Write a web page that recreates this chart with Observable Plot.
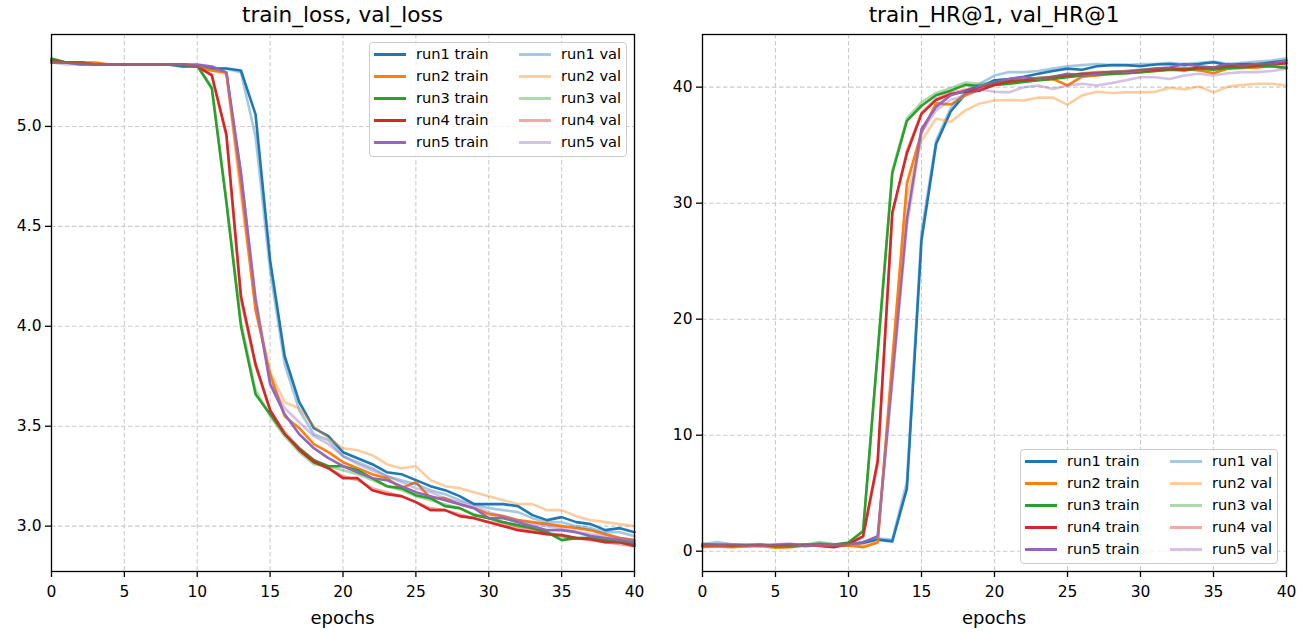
<!DOCTYPE html>
<html>
<head>
<meta charset="utf-8">
<script src="https://cdn.jsdelivr.net/npm/d3@7"></script>
<script src="https://cdn.jsdelivr.net/npm/@observablehq/plot@0.6"></script>
<style>
  body { margin: 0; background: #fff; font-family: "DejaVu Sans", sans-serif; }
  #root { position: relative; width: 1309px; height: 633px; overflow: hidden; }
  .panel { position: absolute; top: 30px; }
  .title { position: absolute; top: 2px; font-size: 21.6px; line-height: 26px; text-align: center; color: #000; white-space: nowrap; }
  .xlabel { position: absolute; top: 606px; font-size: 18px; line-height: 24px; text-align: center; color: #000; }
  .legend { position: absolute; width: 258px; height: 115px; border: 1px solid #cccccc; border-radius: 4px; background: rgba(255,255,255,0.8); box-sizing: border-box; }
  .legend .sw { position: absolute; height: 3px; width: 32px; }
  .legend .lb { position: absolute; font-size: 14.6px; line-height: 18px; color: #000; white-space: nowrap; }
</style>
</head>
<body>
<div id="root"></div>
<script>
// ---------- data ----------
const epochs = [0,1,2,3,4,5,6,7,8,9,10,11,12,13,14,15,16,17,18,19,20,21,22,23,24,25,26,27,28,29,30,31,32,33,34,35,36,37,38,39,40];
const runs = ["run1", "run2", "run3", "run4", "run5"];
const xTicks = [0, 5, 10, 15, 20, 25, 30, 35, 40];
const lossTicks = [3.0, 3.5, 4.0, 4.5, 5.0];
const hrTicks = [0, 10, 20, 30, 40];
const panelTitles = ["train_loss, val_loss", "train_HR@1, val_HR@1"];
const xLabel = "epochs";

// train_loss
const lossTrainRun1 = [5.33,5.32,5.32,5.31,5.31,5.31,5.31,5.31,5.31,5.30,5.30,5.29,5.29,5.28,5.06,4.33,3.85,3.62,3.49,3.45,3.37,3.34,3.31,3.27,3.26,3.23,3.20,3.18,3.15,3.11,3.11,3.11,3.10,3.055,3.03,3.045,3.02,3.01,2.98,2.99,2.97];
const lossTrainRun2 = [5.33,5.32,5.32,5.32,5.31,5.31,5.31,5.31,5.31,5.31,5.30,5.28,5.27,4.70,4.08,3.76,3.55,3.49,3.41,3.37,3.32,3.29,3.26,3.24,3.19,3.22,3.14,3.14,3.11,3.09,3.06,3.05,3.03,3.02,3.01,3.00,2.99,2.98,2.96,2.94,2.93];
const lossTrainRun3 = [5.34,5.32,5.32,5.31,5.31,5.31,5.31,5.31,5.31,5.31,5.305,5.19,4.62,4.00,3.66,3.56,3.46,3.39,3.33,3.30,3.30,3.28,3.24,3.20,3.19,3.155,3.14,3.10,3.09,3.055,3.04,3.02,3.005,2.99,2.97,2.93,2.94,2.94,2.93,2.92,2.91];
const lossTrainRun4 = [5.33,5.32,5.32,5.31,5.31,5.31,5.31,5.31,5.31,5.31,5.30,5.255,4.96,4.15,3.81,3.58,3.46,3.38,3.32,3.29,3.24,3.24,3.18,3.16,3.15,3.12,3.08,3.08,3.05,3.04,3.02,3.00,2.98,2.97,2.96,2.955,2.94,2.935,2.92,2.92,2.90];
const lossTrainRun5 = [5.32,5.32,5.31,5.31,5.31,5.31,5.31,5.31,5.31,5.31,5.31,5.30,5.27,4.77,4.13,3.71,3.56,3.46,3.39,3.34,3.30,3.27,3.24,3.23,3.20,3.17,3.15,3.13,3.11,3.09,3.04,3.04,3.02,3.00,2.98,2.98,2.97,2.95,2.94,2.93,2.92];
// val_loss
const lossValRun1 = [5.32,5.32,5.31,5.31,5.31,5.31,5.31,5.31,5.31,5.30,5.30,5.29,5.29,5.27,4.95,4.28,3.81,3.58,3.46,3.43,3.35,3.32,3.29,3.25,3.23,3.21,3.18,3.16,3.13,3.11,3.09,3.08,3.07,3.04,3.02,3.02,3.00,2.99,2.97,2.97,2.95];
const lossValRun2 = [5.32,5.32,5.32,5.31,5.31,5.31,5.31,5.31,5.31,5.31,5.30,5.28,5.26,4.65,4.10,3.77,3.62,3.59,3.50,3.44,3.39,3.38,3.355,3.31,3.29,3.30,3.23,3.20,3.19,3.17,3.15,3.13,3.11,3.11,3.08,3.08,3.05,3.03,3.02,3.01,3.00];
const lossValRun3 = [5.33,5.32,5.32,5.31,5.31,5.31,5.31,5.31,5.31,5.31,5.30,5.20,4.63,4.02,3.68,3.55,3.45,3.37,3.31,3.30,3.28,3.26,3.23,3.20,3.18,3.15,3.13,3.11,3.09,3.06,3.04,3.02,3.00,2.99,2.97,2.95,2.94,2.94,2.93,2.92,2.91];
const lossValRun4 = [5.32,5.32,5.32,5.31,5.31,5.31,5.31,5.31,5.31,5.31,5.30,5.26,4.95,4.13,3.80,3.58,3.47,3.39,3.33,3.29,3.25,3.23,3.19,3.17,3.15,3.12,3.09,3.08,3.06,3.04,3.02,3.01,2.99,2.98,2.96,2.95,2.94,2.93,2.92,2.91,2.90];
const lossValRun5 = [5.32,5.31,5.31,5.31,5.31,5.31,5.31,5.31,5.31,5.31,5.30,5.30,5.27,4.75,4.15,3.72,3.59,3.52,3.45,3.41,3.35,3.31,3.28,3.25,3.22,3.19,3.17,3.14,3.12,3.10,3.07,3.05,3.03,3.01,3.00,2.99,2.97,2.96,2.95,2.94,2.93];

// train_HR@1
const hrTrainRun1 = [0.5,0.55,0.5,0.45,0.5,0.45,0.5,0.45,0.5,0.5,0.55,0.7,1.0,0.85,5.4,26.8,35.1,37.9,39.4,40.0,40.6,40.7,40.9,41.15,41.4,41.6,41.5,41.8,41.9,41.9,41.8,41.95,42.0,41.9,42.0,42.15,41.9,42.0,42.0,42.15,42.3];
const hrTrainRun2 = [0.35,0.4,0.35,0.4,0.45,0.3,0.35,0.5,0.55,0.45,0.5,0.35,0.75,16.5,31.7,36.1,38.6,38.5,39.3,39.8,40.2,40.35,40.5,40.6,40.7,40.15,40.9,41.0,41.15,41.2,41.3,41.4,41.5,41.6,41.45,41.2,41.6,41.65,41.7,41.8,41.65];
const hrTrainRun3 = [0.6,0.5,0.45,0.5,0.55,0.4,0.4,0.5,0.6,0.55,0.75,1.75,17.2,32.6,37.1,38.4,39.3,39.7,40.2,40.1,40.2,40.3,40.45,40.6,40.7,40.85,41.0,41.1,41.15,41.2,41.3,41.4,41.5,41.45,41.6,41.5,41.65,41.7,41.8,41.8,41.65];
const hrTrainRun4 = [0.45,0.5,0.45,0.5,0.5,0.45,0.5,0.55,0.45,0.35,0.6,1.3,7.8,29.2,34.3,37.7,38.9,39.4,39.6,39.7,40.2,40.5,40.6,40.7,40.85,41.0,41.15,41.2,41.3,41.3,41.4,41.5,41.6,41.5,41.7,41.65,41.8,41.8,41.85,42.0,42.05];
const hrTrainRun5 = [0.55,0.5,0.55,0.5,0.45,0.55,0.6,0.45,0.5,0.5,0.55,0.75,1.3,15.0,28.6,36.4,38.3,39.3,39.7,40.1,40.4,40.7,40.85,40.7,40.9,41.15,41.0,41.15,41.3,41.3,41.45,41.6,41.7,42.0,41.8,41.7,42.0,41.85,42.0,42.0,42.3];
// val_HR@1
const hrValRun1 = [0.6,0.8,0.6,0.5,0.6,0.5,0.6,0.5,0.7,0.6,0.6,0.8,1.1,1.0,6.0,27.5,35.4,38.2,39.6,40.3,41.0,41.3,41.3,41.4,41.6,41.8,41.9,42.0,41.9,41.9,42.0,42.0,42.1,42.0,42.1,42.2,42.0,42.1,42.2,42.3,42.5];
const hrValRun2 = [0.4,0.5,0.4,0.45,0.5,0.4,0.45,0.55,0.5,0.5,0.55,0.5,0.8,16.0,30.5,35.4,37.3,37.0,38.0,38.6,38.85,38.9,38.85,39.1,39.1,38.5,39.3,39.6,39.5,39.55,39.55,39.6,39.95,39.8,40.05,39.55,40.05,40.2,40.3,40.3,40.15];
const hrValRun3 = [0.65,0.55,0.5,0.55,0.6,0.45,0.45,0.55,0.8,0.6,0.7,1.7,17.0,32.8,37.3,38.7,39.5,39.9,40.4,40.3,40.4,40.5,40.6,40.8,40.9,41.0,41.2,41.3,41.3,41.4,41.5,41.6,41.6,41.6,41.7,41.6,41.8,41.8,41.9,41.9,41.8];
const hrValRun4 = [0.5,0.55,0.5,0.55,0.5,0.5,0.55,0.6,0.5,0.45,0.65,1.2,7.5,29.0,34.5,37.8,39.0,39.5,39.8,39.9,40.3,40.5,40.6,40.8,40.9,41.0,41.1,41.3,41.3,41.4,41.5,41.5,41.6,41.6,41.7,41.7,41.8,41.9,41.9,42.0,42.1];
const hrValRun5 = [0.6,0.55,0.6,0.55,0.5,0.6,0.65,0.5,0.55,0.55,0.6,0.8,1.2,14.5,28.0,36.1,38.0,38.9,39.3,39.8,39.6,39.55,40.0,40.15,39.85,40.15,40.3,40.15,40.35,40.6,40.85,40.85,40.7,41.0,41.15,41.0,41.2,41.3,41.3,41.4,41.6];

// ---------- styling ----------
const runColors = ["#1f77b4", "#ff7f0e", "#2ca02c", "#d62728", "#9467bd"];
const valOpacity = 0.4;

const lossTrain = [lossTrainRun1, lossTrainRun2, lossTrainRun3, lossTrainRun4, lossTrainRun5];
const lossVal = [lossValRun1, lossValRun2, lossValRun3, lossValRun4, lossValRun5];
const hrTrain = [hrTrainRun1, hrTrainRun2, hrTrainRun3, hrTrainRun4, hrTrainRun5];
const hrVal = [hrValRun1, hrValRun2, hrValRun3, hrValRun4, hrValRun5];

function rows(series) {
  return epochs.map((e, i) => ({epoch: e, value: series[i]}));
}

function panel({train, val, yDomain, yTicks, yFormat, width, marginLeft, marginRight}) {
  const lineMarks = [];
  train.forEach((s, i) => lineMarks.push(Plot.line(rows(s), {x: "epoch", y: "value", stroke: runColors[i], strokeWidth: 2.6})));
  val.forEach((s, i) => lineMarks.push(Plot.line(rows(s), {x: "epoch", y: "value", stroke: runColors[i], strokeWidth: 2.6, strokeOpacity: valOpacity})));
  return Plot.plot({
    width, height: 603,
    marginLeft, marginRight, marginTop: 4, marginBottom: 62,
    style: {fontFamily: "DejaVu Sans", fontSize: "15.5px", background: "transparent", overflow: "visible"},
    x: {domain: [0, 40]},
    y: {domain: yDomain},
    marks: [
      Plot.gridX(xTicks, {stroke: "#cbcbcb", strokeOpacity: 1, strokeWidth: 1.1, strokeDasharray: "4.5,2.5"}),
      Plot.gridY(yTicks, {stroke: "#cbcbcb", strokeOpacity: 1, strokeWidth: 1.1, strokeDasharray: "4.5,2.5"}),
      ...lineMarks,
      Plot.frame({stroke: "#000", strokeWidth: 1.3}),
      Plot.axisX(xTicks, {tickSize: 6, tickPadding: 8, label: null, fontSize: 15.5, stroke: "#000", strokeWidth: 1.3}),
      Plot.axisY(yTicks, {tickSize: 6, tickPadding: 4, label: null, fontSize: 15.5, tickFormat: yFormat, stroke: "#000", strokeWidth: 1.3})
    ]
  });
}

const root = document.getElementById("root");

const panels = [
  {left: 0, width: 654, marginLeft: 51, marginRight: 20, train: lossTrain, val: lossVal,
   yDomain: [2.773, 5.46], yTicks: lossTicks, yFormat: d3.format(".1f"),
   legend: {left: 369, top: 42}},
  {left: 654, width: 655, marginLeft: 48, marginRight: 23, train: hrTrain, val: hrVal,
   yDomain: [-1.75, 44.54], yTicks: hrTicks, yFormat: d3.format("d"),
   legend: {left: 1020, top: 449}}
];

panels.forEach((p, k) => {
  const div = document.createElement("div");
  div.className = "panel";
  div.style.left = p.left + "px";
  div.appendChild(panel(p));
  root.appendChild(div);

  const plotLeft = p.left + p.marginLeft;
  const plotWidth = p.width - p.marginLeft - p.marginRight;

  const t = document.createElement("div");
  t.className = "title";
  t.style.left = plotLeft + "px";
  t.style.width = plotWidth + "px";
  t.textContent = panelTitles[k];
  root.appendChild(t);

  const xl = document.createElement("div");
  xl.className = "xlabel";
  xl.style.left = plotLeft + "px";
  xl.style.width = plotWidth + "px";
  xl.textContent = xLabel;
  root.appendChild(xl);

  const lg = document.createElement("div");
  lg.className = "legend";
  lg.style.left = p.legend.left + "px";
  lg.style.top = p.legend.top + "px";
  ["train", "val"].forEach((kind, col) => {
    runs.forEach((r, i) => {
      const y = 11.5 + i * 22;
      const sw = document.createElement("div");
      sw.className = "sw";
      sw.style.left = (4 + col * 145) + "px";
      sw.style.top = (y - 1.5) + "px";
      sw.style.background = runColors[i];
      if (kind === "val") sw.style.opacity = valOpacity;
      lg.appendChild(sw);
      const lb = document.createElement("div");
      lb.className = "lb";
      lb.style.left = (46 + col * 145) + "px";
      lb.style.top = (y - 9.5) + "px";
      lb.textContent = r + " " + kind;
      lg.appendChild(lb);
    });
  });
  root.appendChild(lg);
});
</script>
</body>
</html>
